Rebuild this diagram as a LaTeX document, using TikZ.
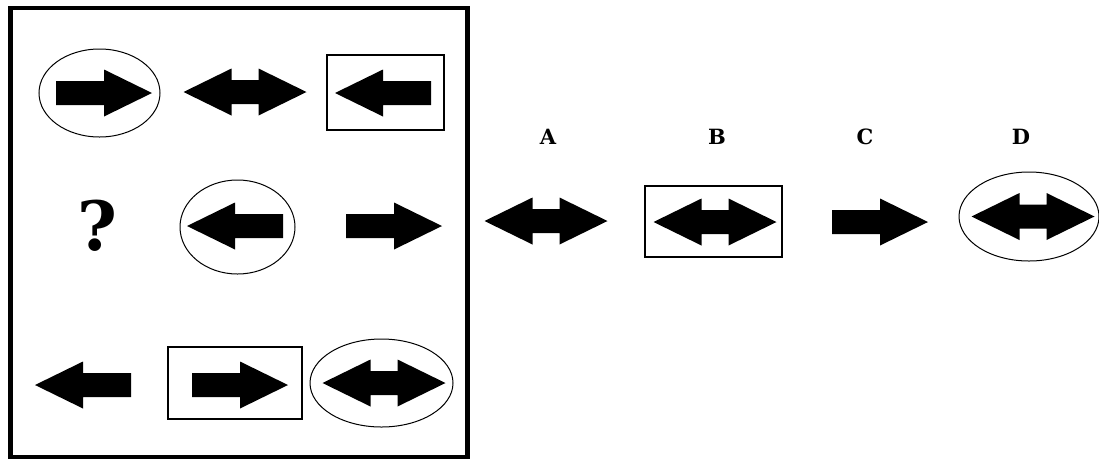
\documentclass[tikz,border=0pt]{standalone}
\usepackage{fontspec}
\newfontfamily\slabbold{DejaVu Serif Bold}
\usetikzlibrary{shapes.geometric}
\tikzset{
  rarr/.pic={\fill (-48,-12) -- (0,-12) -- (0,-23.5) -- (48,0) -- (0,23.5) -- (0,12) -- (-48,12) -- cycle;},
  larr/.pic={\fill (48,-12) -- (0,-12) -- (0,-23.5) -- (-48,0) -- (0,23.5) -- (0,12) -- (48,12) -- cycle;},
  darr/.pic={\fill (-13.5,-12) -- (13.5,-12) -- (13.5,-23.5) -- (61.5,0) -- (13.5,23.5) -- (13.5,12) -- (-13.5,12) -- (-13.5,23.5) -- (-61.5,0) -- (-13.5,-23.5) -- cycle;},
  oval/.style={ellipse, draw, line width=1pt, inner sep=0pt, outer sep=0pt},
  frame/.style={rectangle, draw, line width=1.2pt, inner sep=0pt, outer sep=0pt},
  lbl/.style={font=\slabbold\fontsize{21}{21}\selectfont, inner sep=0pt},
}
\begin{document}
\begin{tikzpicture}[x=1pt,y=-1pt]
\useasboundingbox (0,0) rectangle (1099,459);
\fill[white] (0,0) rectangle (1099,459);
% outer box
\draw[line width=4.5pt] (10.5,8) rectangle (467.5,457);
% row 1
\node[oval, minimum width=121pt, minimum height=88pt] (e1) at (99.5,93) {};
\pic at (104,93) {rarr};
\pic at (245,92) {darr};
\node[frame, minimum width=117pt, minimum height=75pt] (r1) at (385.5,92.5) {};
\pic at (383,93) {larr};
% row 2
\node[font=\slabbold\fontsize{68}{68}\selectfont, inner sep=0pt] (q) at (97,226) {?};
\node[oval, minimum width=115pt, minimum height=94pt] (e2) at (237.5,227) {};
\pic at (235,226) {larr};
\pic at (394,226) {rarr};
% row 3
\pic at (83,385) {larr};
\node[frame, minimum width=134pt, minimum height=72pt] (r3) at (235,383) {};
\pic at (240,385) {rarr};
\node[oval, minimum width=143pt, minimum height=88pt] (e3) at (381.5,383) {};
\pic at (384,383) {darr};
% options
\node[lbl] (A) at (548,137) {A};
\node[lbl] (B) at (717,137) {B};
\node[lbl] (C) at (865,137) {C};
\node[lbl] (D) at (1021,137) {D};
\pic at (546,221) {darr};
\node[frame, minimum width=137pt, minimum height=71pt] (rB) at (713.5,221.5) {};
\pic at (715,222) {darr};
\pic at (880,222) {rarr};
\node[oval, minimum width=140pt, minimum height=89pt] (eD) at (1029,216.5) {};
\pic at (1033,216.5) {darr};
\end{tikzpicture}
\end{document}
